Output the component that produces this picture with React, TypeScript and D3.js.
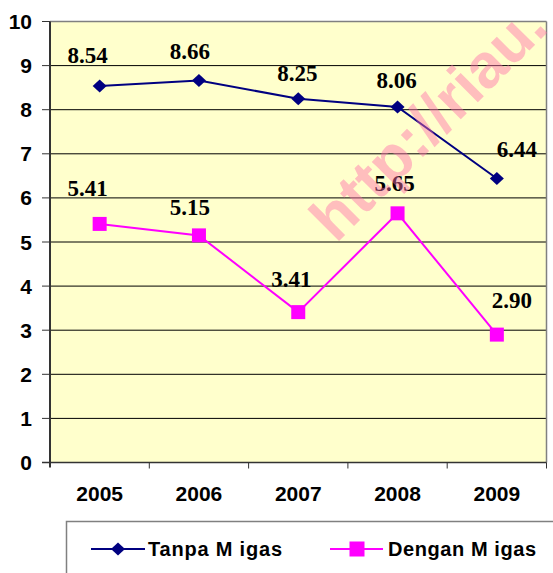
import React from "react";
import * as d3 from "d3";

const years = ["2005", "2006", "2007", "2008", "2009"];
const tanpaMigas = [8.54, 8.66, 8.25, 8.06, 6.44];
const denganMigas = [5.41, 5.15, 3.41, 5.65, 2.9];
const yTicks = [0, 1, 2, 3, 4, 5, 6, 7, 8, 9, 10];
const seriesNames = ["Tanpa M igas", "Dengan M igas"];
// label offsets (layout) relative to each point: [dx, dy]
const tanpaLabelOffsets = [[-12, -23], [-9, -22], [-1, -18], [-1, -19], [20, -21]];
const denganLabelOffsets = [[-12, -28], [-9, -20], [-7, -25], [-3, -22], [15, -27]];

const W = 553;
const H = 573;
const left = 50;
const right = 546.5;
const top = 21.5;
const bottom = 462.5;

export default function App() {
  const x = d3.scaleBand<string>().domain(years).range([left, right]);
  const y = d3.scaleLinear().domain([0, 10]).range([bottom, top]);
  const cx = (yr: string) => (x(yr) as number) + x.bandwidth() / 2;
  const line = d3
    .line<number>()
    .x((_, i) => cx(years[i]))
    .y((v) => y(v));
  const diamond = (px: number, py: number, hw = 7, hh = 6.5) =>
    `M${px},${py - hh}L${px + hw},${py}L${px},${py + hh}L${px - hw},${py}Z`;
  const axisFont = "'Liberation Sans', Arial, sans-serif";
  const labelFont = "'Liberation Serif', 'Times New Roman', serif";
  return (
    <svg
      width={W}
      height={H}
      style={{ position: "absolute", left: 0, top: 0, background: "#fff" }}
    >
      <rect x={left} y={top} width={right - left} height={bottom - top} fill="#ffffcc" />
      {yTicks
        .filter((t) => t > 0 && t < 10)
        .map((t) => (
          <line key={t} x1={left} x2={right} y1={y(t)} y2={y(t)} stroke="#000" strokeWidth={1} />
        ))}
      <line x1={left} x2={right} y1={y(10)} y2={y(10)} stroke="#808080" strokeWidth={1.5} />
      <line x1={right} x2={right} y1={top} y2={bottom} stroke="#808080" strokeWidth={1.5} />
      <line x1={left} x2={left} y1={top} y2={bottom + 5} stroke="#333" strokeWidth={2} />
      <line x1={left - 8} x2={right} y1={bottom} y2={bottom} stroke="#333" strokeWidth={1.5} />
      {yTicks.map((t) => (
        <g key={t}>
          <line x1={left - 8} x2={left} y1={y(t)} y2={y(t)} stroke="#333" strokeWidth={1} />
          <text
            x={32}
            y={y(t) + 7.5}
            textAnchor="end"
            fontFamily={axisFont}
            fontWeight="bold"
            fontSize={21}
            fill="#000"
          >
            {t}
          </text>
        </g>
      ))}
      {years.map((yr) => (
        <g key={yr}>
          <line
            x1={(x(yr) as number) + x.bandwidth()}
            x2={(x(yr) as number) + x.bandwidth()}
            y1={bottom}
            y2={bottom + 6}
            stroke="#333"
            strokeWidth={1}
          />
          <text
            x={cx(yr)}
            y={501}
            textAnchor="middle"
            fontFamily={axisFont}
            fontWeight="bold"
            fontSize={21}
            fill="#000"
          >
            {yr}
          </text>
        </g>
      ))}
      <path d={line(tanpaMigas) || ""} fill="none" stroke="#000080" strokeWidth={2} />
      <path d={line(denganMigas) || ""} fill="none" stroke="#ff00ff" strokeWidth={2} />
      {tanpaMigas.map((v, i) => (
        <path key={"t" + i} d={diamond(cx(years[i]), y(v))} fill="#000080" />
      ))}
      {denganMigas.map((v, i) => (
        <rect key={"d" + i} x={cx(years[i]) - 7} y={y(v) - 7} width={14} height={14} fill="#ff00ff" />
      ))}
      {tanpaMigas.map((v, i) => (
        <text
          key={"tl" + i}
          x={cx(years[i]) + tanpaLabelOffsets[i][0]}
          y={y(v) + tanpaLabelOffsets[i][1]}
          textAnchor="middle"
          fontFamily={labelFont}
          fontWeight="bold"
          fontSize={23}
          fill="#000"
        >
          {v.toFixed(2)}
        </text>
      ))}
      {denganMigas.map((v, i) => (
        <text
          key={"dl" + i}
          x={cx(years[i]) + denganLabelOffsets[i][0]}
          y={y(v) + denganLabelOffsets[i][1]}
          textAnchor="middle"
          fontFamily={labelFont}
          fontWeight="bold"
          fontSize={23}
          fill="#000"
        >
          {v.toFixed(2)}
        </text>
      ))}
      {/* legend */}
      <rect x={66.5} y={521.5} width={520} height={100} fill="#fff" stroke="#808080" strokeWidth={1.5} />
      <line x1={91} x2={145} y1={549} y2={549} stroke="#000080" strokeWidth={2} />
      <path d={diamond(118, 549)} fill="#000080" />
      <text
        x={148}
        y={555.5}
        fontFamily={axisFont}
        fontWeight="bold"
        fontSize={20}
        textLength={134}
        lengthAdjust="spacing"
        fill="#000"
      >
        {seriesNames[0]}
      </text>
      <line x1={330} x2={383} y1={549} y2={549} stroke="#ff00ff" strokeWidth={2} />
      <rect x={349.5} y={541.5} width={15} height={15} fill="#ff00ff" />
      <text
        x={388}
        y={555.5}
        fontFamily={axisFont}
        fontWeight="bold"
        fontSize={20}
        textLength={148}
        lengthAdjust="spacing"
        fill="#000"
      >
        {seriesNames[1]}
      </text>
      {/* watermark */}
      <text
        x={336}
        y={244}
        transform="rotate(-45 336 244)"
        fontFamily={axisFont}
        fontWeight="bold"
        fontSize={62}
        fill="rgb(255,110,170)"
        fillOpacity={0.45}
      >
        http://riau.
      </text>
    </svg>
  );
}
